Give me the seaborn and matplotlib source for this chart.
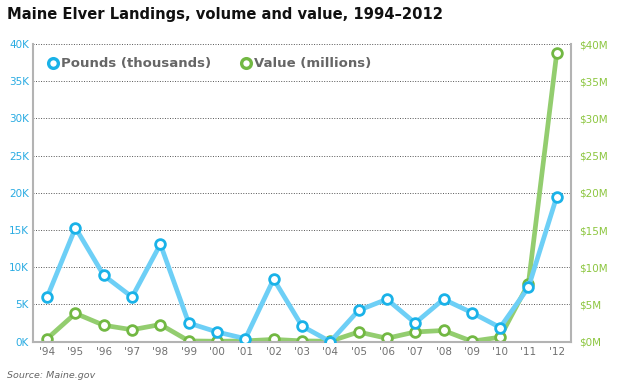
import matplotlib
matplotlib.use("Agg")
import matplotlib.pyplot as plt
import seaborn as sns
import pandas as pd
from matplotlib.lines import Line2D

years = ["'94", "'95", "'96", "'97", "'98", "'99", "'00", "'01", "'02", "'03",
         "'04", "'05", "'06", "'07", "'08", "'09", "'10", "'11", "'12"]
pounds_k = [6.0, 15.3, 8.9, 6.0, 13.1, 2.5, 1.3, 0.4, 8.4, 2.1,
            0.0, 4.2, 5.7, 2.5, 5.7, 3.9, 1.9, 7.3, 19.5]
value_m = [0.4, 3.8, 2.2, 1.6, 2.3, 0.1, 0.05, 0.1, 0.3, 0.1,
           0.05, 1.3, 0.45, 1.3, 1.5, 0.05, 0.6, 7.8, 38.8]
left_ticks = [0, 5, 10, 15, 20, 25, 30, 35, 40]
left_labels = ["0K", "5K", "10K", "15K", "20K", "25K", "30K", "35K", "40K"]
right_labels = ["$0M", "$5M", "$10M", "$15M", "$20M", "$25M", "$30M", "$35M", "$40M"]

BLUE_LINE = "#6dcff6"
BLUE_MK = "#1ab2e8"
GREEN_LINE = "#93cd6f"
GREEN_MK = "#72b843"
SPINE = "#b3b3b3"

sns.set_style("white")
plt.rcParams['font.family'] = ['DejaVu Sans']

df = pd.DataFrame({"x": list(range(len(years))), "pounds": pounds_k, "value": value_m})

fig = plt.figure(figsize=(6.24, 3.9), dpi=100)
ax = fig.add_axes([0.0529, 0.124, 0.862, 0.763])
ax2 = ax.twinx()

ax.set_zorder(2)
ax.patch.set_visible(False)

sns.lineplot(data=df, x="x", y="value", ax=ax2, color=GREEN_LINE, linewidth=3.4,
             marker="o", markersize=7, markerfacecolor="white",
             markeredgecolor=GREEN_MK, markeredgewidth=2.0, zorder=3)
sns.lineplot(data=df, x="x", y="pounds", ax=ax, color=BLUE_LINE, linewidth=3.4,
             marker="o", markersize=7, markerfacecolor="white",
             markeredgecolor=BLUE_MK, markeredgewidth=2.0, zorder=3)

for a in (ax, ax2):
    a.set_ylim(0, 40)
    a.set_xlim(-0.5, len(years) - 0.5)
    a.set_xlabel("")
    a.set_ylabel("")
    a.set_yticks(left_ticks)
    for s in a.spines.values():
        s.set_visible(False)

ax.set_yticklabels(left_labels)
ax2.set_yticklabels(right_labels)
ax.set_xticks(range(len(years)))
ax.set_xticklabels(years)

ax.tick_params(axis="y", labelcolor="#29abe2", labelsize=7.5, length=0, pad=3)
ax2.tick_params(axis="y", labelcolor="#8cc63f", labelsize=7.5, length=0, pad=6)
ax.tick_params(axis="x", labelcolor="#707070", labelsize=7.5, length=0, pad=4)

# dotted gridlines
for t in left_ticks[1:]:
    ax2.axhline(t, color="#555555", linestyle=(0, (1.0, 1.6)), linewidth=0.7, zorder=0)

ax.spines["left"].set_visible(True)
ax.spines["left"].set_color(SPINE)
ax.spines["left"].set_linewidth(1.5)
ax.spines["bottom"].set_visible(True)
ax.spines["bottom"].set_color(SPINE)
ax.spines["bottom"].set_linewidth(1.5)
ax2.spines["right"].set_visible(True)
ax2.spines["right"].set_color(SPINE)
ax2.spines["right"].set_linewidth(1.5)

handles = [
    Line2D([], [], linestyle="none", marker="o", markersize=7, markerfacecolor="white",
           markeredgecolor=BLUE_MK, markeredgewidth=2.4),
    Line2D([], [], linestyle="none", marker="o", markersize=7, markerfacecolor="white",
           markeredgecolor=GREEN_MK, markeredgewidth=2.4),
]
leg = ax.legend(handles, ["Pounds (thousands)", "Value (millions)"], loc="upper left",
                ncol=2, frameon=False, bbox_to_anchor=(0.0, 1.0),
                handletextpad=0.15, columnspacing=2.1, handlelength=1.0,
                borderaxespad=0.6, prop={"weight": "bold", "size": 9.5})
for txt in leg.get_texts():
    txt.set_color("#666666")

fig.text(0.011, 0.963, "Maine Elver Landings, volume and value, 1994\u20132012",
         fontsize=10.6, fontweight="bold", color="#111111", va="center", ha="left")
fig.text(0.011, 0.038, "Source: Maine.gov", fontsize=6.8, style="italic",
         color="#666666", va="center", ha="left")

fig.savefig("out.png", dpi=100)
